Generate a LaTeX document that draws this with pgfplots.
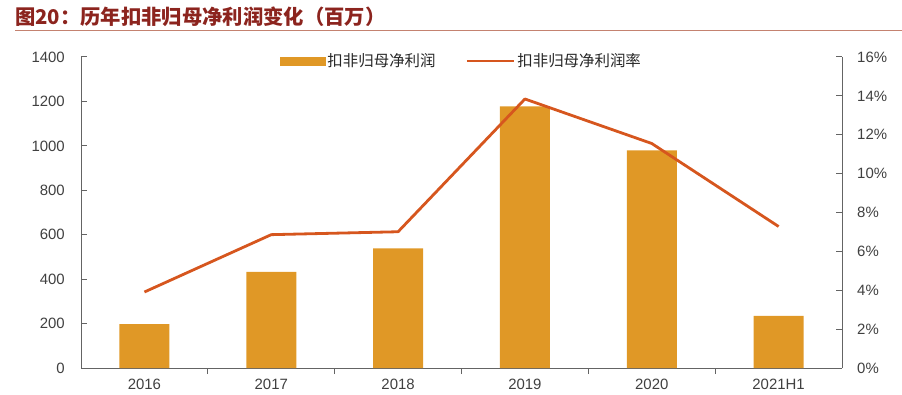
\documentclass[border=0pt]{standalone}
\usepackage{pgfplots}
\pgfplotsset{compat=1.18}
\usepackage{fontspec}
\setmainfont{Liberation Sans}
\newfontfamily\cjk{Noto Sans CJK SC}
\definecolor{barc}{RGB}{224,152,38}
\definecolor{linec}{RGB}{214,86,30}
\definecolor{titc}{RGB}{140,36,30}
\definecolor{rulec}{RGB}{196,130,112}
\definecolor{axc}{RGB}{100,100,100}
\definecolor{txtc}{RGB}{64,64,64}
\pgfplotsset{common/.style={scale only axis, width=761bp, height=311bp,
  at={(81bp,26bp)}, anchor=south west, xmin=-0.5, xmax=5.5,
  axis line style={axc, line width=1bp}, tick style={axc, line width=1bp},
  major tick length=6bp, minor tick length=6bp, tick align=inside,
  tick label style={font=\fontsize{15}{18}\selectfont, text=txtc}}}
\begin{document}
\begin{tikzpicture}[x=1bp,y=1bp]
\useasboundingbox (0,0) rectangle (902,394);
\node[anchor=base west, inner sep=0, text=titc, font=\cjk\bfseries\fontsize{20.4}{24}\selectfont] at (15,370) {图20：历年扣非归母净利润变化（百万）};
\draw[rulec, line width=1.5bp] (15,363.3) -- (902,363.3);
\begin{axis}[common, axis x line*=bottom, axis y line*=left,
  ymin=0, ymax=1400, ytick={0,200,...,1400},
  yticklabels={0,200,400,600,800,1000,1200,1400},
  yticklabel style={anchor=east, inner sep=0pt, xshift=-16bp},
  xtick={0,...,5}, xticklabels={2016,2017,2018,2019,2020,2021H1},
  xticklabel style={anchor=north, inner sep=0pt, yshift=-5bp},
  major x tick style={draw=none},
  minor xtick={0.5,1.5,2.5,3.5,4.5},
  minor x tick style={axc, line width=1bp},
  ybar, bar width=50bp]
\addplot[fill=barc, draw=none] coordinates {(0,198) (1,433) (2,538) (3,1178) (4,980) (5,235)};
\end{axis}
\begin{axis}[common, axis x line=none, axis y line*=right,
  ymin=0, ymax=16, ytick={0,2,...,16},
  yticklabels={0\%,2\%,4\%,6\%,8\%,10\%,12\%,14\%,16\%},
  yticklabel style={anchor=west, inner sep=0pt, xshift=15bp},
  legend style={at={(0.5,0.987)}, anchor=center, draw=none, fill=none,
    legend columns=2, font=\cjk\fontsize{15.5}{18}\selectfont, text=black!85,
    /tikz/every even column/.append style={column sep=28bp}}]
\addlegendimage{legend image code/.code={\fill[barc] (0bp,-4bp) rectangle (45bp,4bp);}}
\addplot[linec, line width=2.8bp, line join=round,
  legend image code/.code={\draw[linec, line width=2.8bp] (0bp,0bp) -- (47bp,0bp);}]
  coordinates {(0,3.91) (1,6.86) (2,7.01) (3,13.84) (4,11.55) (5,7.28)};
\legend{扣非归母净利润, 扣非归母净利润率}
\end{axis}
\end{tikzpicture}
\end{document}
